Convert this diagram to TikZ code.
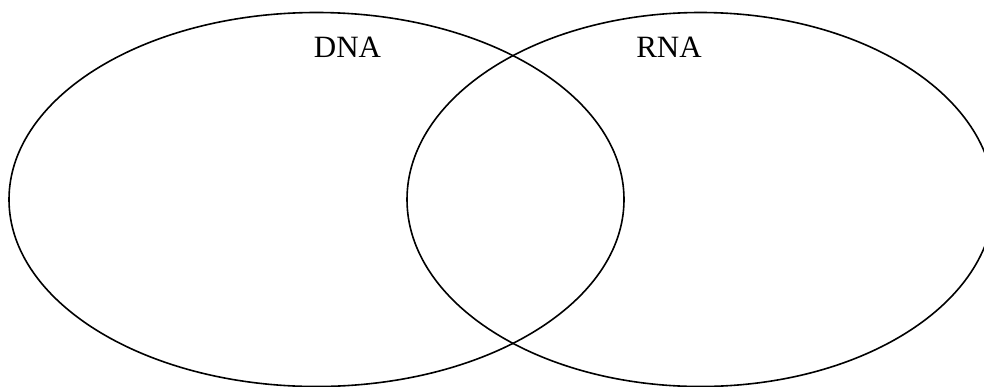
\documentclass[tikz,border=0pt]{standalone}
\usepackage{fontspec}
\setmainfont{Liberation Serif}
\usetikzlibrary{shapes.geometric}
\begin{document}
\begin{tikzpicture}[x=1pt,y=-1pt,
  setellipse/.style={draw=black,line width=1.6pt,ellipse,inner sep=0pt},
  setlabel/.style={font=\fontsize{31}{36}\selectfont,inner sep=0pt,anchor=base}]
\useasboundingbox (0,0) rectangle (984,386);
\begin{scope}
\clip (0,0) rectangle (984,386);
\node[setellipse,minimum width=615pt,minimum height=374pt] (dna) at (316.5,199.5) {};
\node[setellipse,minimum width=587pt,minimum height=374pt] (rna) at (700.5,199.5) {};
\end{scope}
\node[setlabel] (dnalabel) at (347.5,57) {DNA};
\node[setlabel] (rnalabel) at (669,57) {RNA};
\end{tikzpicture}
\end{document}
